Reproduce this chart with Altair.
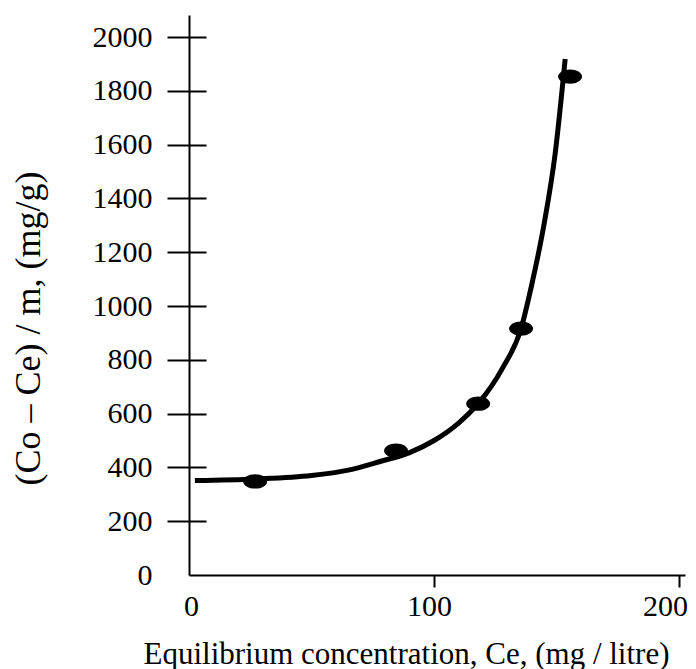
import altair as alt
import pandas as pd

# Measured data points (Ce in mg/litre, (Co-Ce)/m in mg/g)
pts_x = [27, 84.5, 118, 135.5, 155.5]
pts_y = [348, 462, 637, 916, 1853]

# Fitted curve
curve_x = [2.4, 27, 50, 65, 78, 90, 100, 110, 118, 128, 135.5, 140, 145, 149.4, 153.5]
curve_y = [351, 357, 370, 390, 422, 455, 500, 565, 637, 770, 916, 1085, 1310, 1565, 1918]

x_ticks = [0, 100, 200]
y_ticks = [0, 200, 400, 600, 800, 1000, 1200, 1400, 1600, 1800, 2000]

x_title = "Equilibrium concentration, Ce, (mg / litre)"
y_title = "(Co \u2013 Ce) / m, (mg/g)"

FONT = "Liberation Serif"
X_DOMAIN = [0, 202.4]
Y_DOMAIN = [0, 2082]

pts = pd.DataFrame({"x": pts_x, "y": pts_y})
curve = pd.DataFrame({"x": curve_x, "y": curve_y})

xs = alt.Scale(domain=X_DOMAIN, nice=False, zero=False)
ys = alt.Scale(domain=Y_DOMAIN, nice=False, zero=False)

hide0 = {"condition": {"test": "datum.value == 0", "value": 0}, "value": 1}
x_label_off = {
    "condition": [
        {"test": "datum.value == 100", "value": -5},
        {"test": "datum.value == 200", "value": -14},
    ],
    "value": 2,
}

x_axis = alt.Axis(
    orient="bottom", values=x_ticks, format="d", grid=False,
    domainColor="black", domainWidth=2,
    tickColor="black", tickWidth=2, tickSize=12, tickOpacity=hide0,
    labelFont=FONT, labelFontSize=30, labelColor="black",
    labelPadding=4, labelFlush=False, labelOverlap=False,
    labelOffset=x_label_off,
    title=x_title, titleFont=FONT, titleFontSize=31, titleFontWeight="normal",
    titleColor="black", titleX=217, titleY=88, titleBaseline="alphabetic",
    titleAlign="center",
)

y_axis_main = alt.Axis(
    orient="left", values=y_ticks, format="d", grid=False,
    domainColor="black", domainWidth=2,
    tickColor="black", tickWidth=2, tickSize=22, tickOpacity=hide0,
    labelFont=FONT, labelFontSize=30, labelColor="black",
    labelPadding=15, labelFlush=False, labelOverlap=False,
    title=y_title, titleFont=FONT, titleFontSize=36, titleFontWeight="normal",
    titleColor="black", titleX=-150, titleY=313, titleBaseline="alphabetic",
    titleAlign="center", titleAngle=270,
)

y_axis_inner = alt.Axis(
    orient="left", values=y_ticks, grid=False, domain=False, labels=False,
    offset=-17, tickColor="black", tickWidth=2, tickSize=17, tickOpacity=hide0,
    title=None,
)

line = alt.Chart(curve).mark_line(
    color="black", strokeWidth=5, strokeCap="butt", interpolate="monotone", clip=False
).encode(
    x=alt.X("x:Q", scale=xs, axis=x_axis),
    y=alt.Y("y:Q", scale=ys, axis=y_axis_main),
    order="x:Q",
)

ellipse = "M-1,0A1,0.6,0,1,1,1,0A1,0.6,0,1,1,-1,0Z"
points = alt.Chart(pts).mark_point(
    shape=ellipse, size=576, filled=True, color="black", opacity=1, strokeWidth=0
).encode(
    x=alt.X("x:Q", scale=xs, axis=x_axis),
    y=alt.Y("y:Q", scale=ys, axis=y_axis_inner),
)

chart = alt.layer(line, points).resolve_axis(y="independent").properties(
    width=496,
    height=560,
    autosize=alt.AutoSizeParams(type="none"),
    padding={"left": 181, "top": 7, "right": 3, "bottom": 94},
    background="white",
).configure_view(stroke=None)

chart.save("out.html", embed_options={"renderer": "svg", "actions": False})
